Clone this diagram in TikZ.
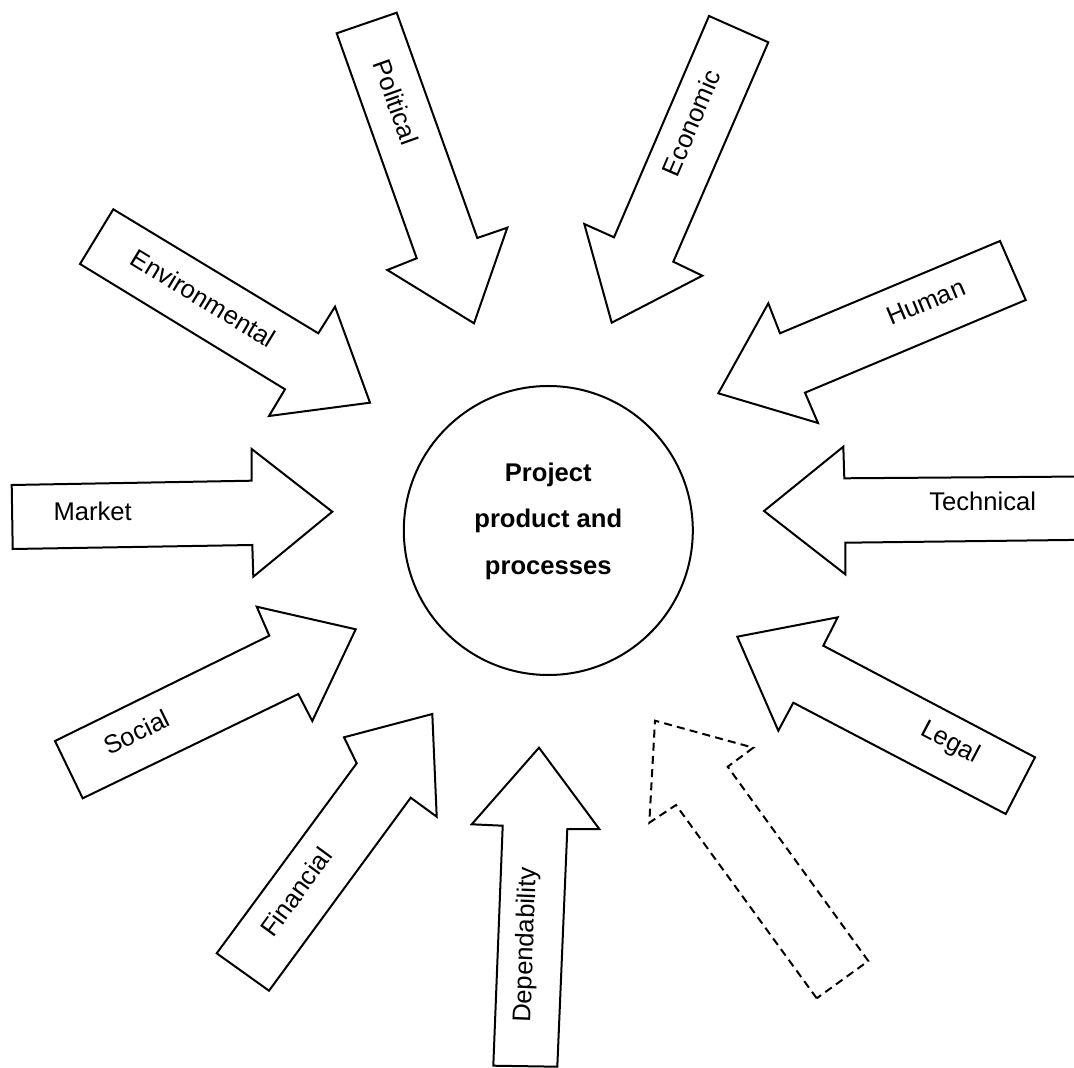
\documentclass[tikz,border=0pt]{standalone}
\usepackage{fontspec}
\setmainfont{Liberation Sans}
\begin{document}
\begin{tikzpicture}[x=0.5pt,y=-0.5pt,
  arrowshape/.style={draw=black, line width=1pt, fill=white, line join=miter},
  dashedshape/.style={arrowshape, dash pattern=on 4pt off 2.6pt},
  lbl/.style={font=\fontsize{12.8}{15}\selectfont, inner sep=0pt},
  hub/.style={circle, draw=black, line width=1pt, minimum size=144.5pt, inner sep=0pt},
  hubtext/.style={font=\bfseries\fontsize{12.8}{23.3}\selectfont, align=center, inner sep=0pt}]
\useasboundingbox (0,0) rectangle (1074,1068);
\fill[white] (0,0) rectangle (1074,1068);
\clip (0,0) rectangle (1074,1068);

% Political
\draw[arrowshape] (336.7,33.3) -- (396.7,12.7) -- (477.3,238) -- (507.3,227.7) -- (474,323.3) -- (387.3,270) -- (416.7,258.3) -- cycle;
\node[lbl, rotate=-70.4] (political) at (396,102) {Political};

% Economic
\draw[arrowshape] (709,16) -- (768.3,42.3) -- (673.3,261.7) -- (702.3,275.7) -- (611.7,322.7) -- (584.3,224) -- (614,237.3) -- cycle;
\node[lbl, rotate=66.8] (economic) at (691,123) {Economic};

% Environmental
\draw[arrowshape] (113.3,209.3) -- (318.3,333.3) -- (335,306.7) -- (370,402.7) -- (269,416) -- (285,389.3) -- (80,264) -- cycle;
\node[lbl, rotate=-31.2] (environmental) at (203.3,298.3) {Environmental};

% Human
\draw[arrowshape] (1000,241) -- (1025.7,300) -- (805,392.7) -- (818,423) -- (718.3,393.3) -- (768.3,303.3) -- (780,333.3) -- cycle;
\node[lbl, rotate=22.8] (human) at (925.8,302) {Human};

% Market
\draw[arrowshape] (11.7,485) -- (251.7,480.7) -- (251.7,449) -- (332.3,511.7) -- (253.3,576.7) -- (252.3,545) -- (12.7,549) -- cycle;
\node[lbl] (market) at (92.7,511.7) {Market};

% Technical
\draw[arrowshape] (1085,476.5) -- (844.3,478.3) -- (843.3,446.7) -- (764,511) -- (845.3,574.3) -- (845.3,542.7) -- (1085,539.8) -- cycle;
\node[lbl] (technical) at (982.7,501.7) {Technical};

% Social
\draw[arrowshape] (55,741) -- (269.3,635.7) -- (256.7,606.7) -- (355.7,629.3) -- (312.3,721) -- (298.3,694) -- (82.7,798.3) -- cycle;
\node[lbl, rotate=26.2] (social) at (136.7,732) {Social};

% Legal
\draw[arrowshape] (1035,757.3) -- (823.3,645.7) -- (837.7,617.3) -- (737.3,636.7) -- (778.3,730.7) -- (793.3,702.7) -- (1005.7,814) -- cycle;
\node[lbl, rotate=-27.8] (legal) at (950,743) {Legal};

% Financial
\draw[arrowshape] (216.7,953.3) -- (356.7,763.3) -- (344,737.3) -- (432.3,714) -- (436.7,816.7) -- (410.7,797.7) -- (269,990.7) -- cycle;
\node[lbl, rotate=53.7] (financial) at (296,892) {Financial};

% Dependability
\draw[arrowshape] (493.3,1065.7) -- (502.7,825.7) -- (471.7,824.3) -- (539,747.7) -- (599.3,829) -- (567.3,829) -- (557.3,1066.7) -- cycle;
\node[lbl, rotate=87.8] (dependability) at (526.7,945) {Dependability};

% Dashed (empty) arrow
\draw[dashedshape] (816.7,998.3) -- (676,805) -- (649.3,822.7) -- (655,720.7) -- (753.3,747.7) -- (727.7,766.7) -- (868.3,961) -- cycle;

% Hub
\node[hub] (core) at (548.3,530.5) {};
\node[hubtext] (coretext) at (548.3,521) {Project\\product and\\processes};
\end{tikzpicture}
\end{document}
